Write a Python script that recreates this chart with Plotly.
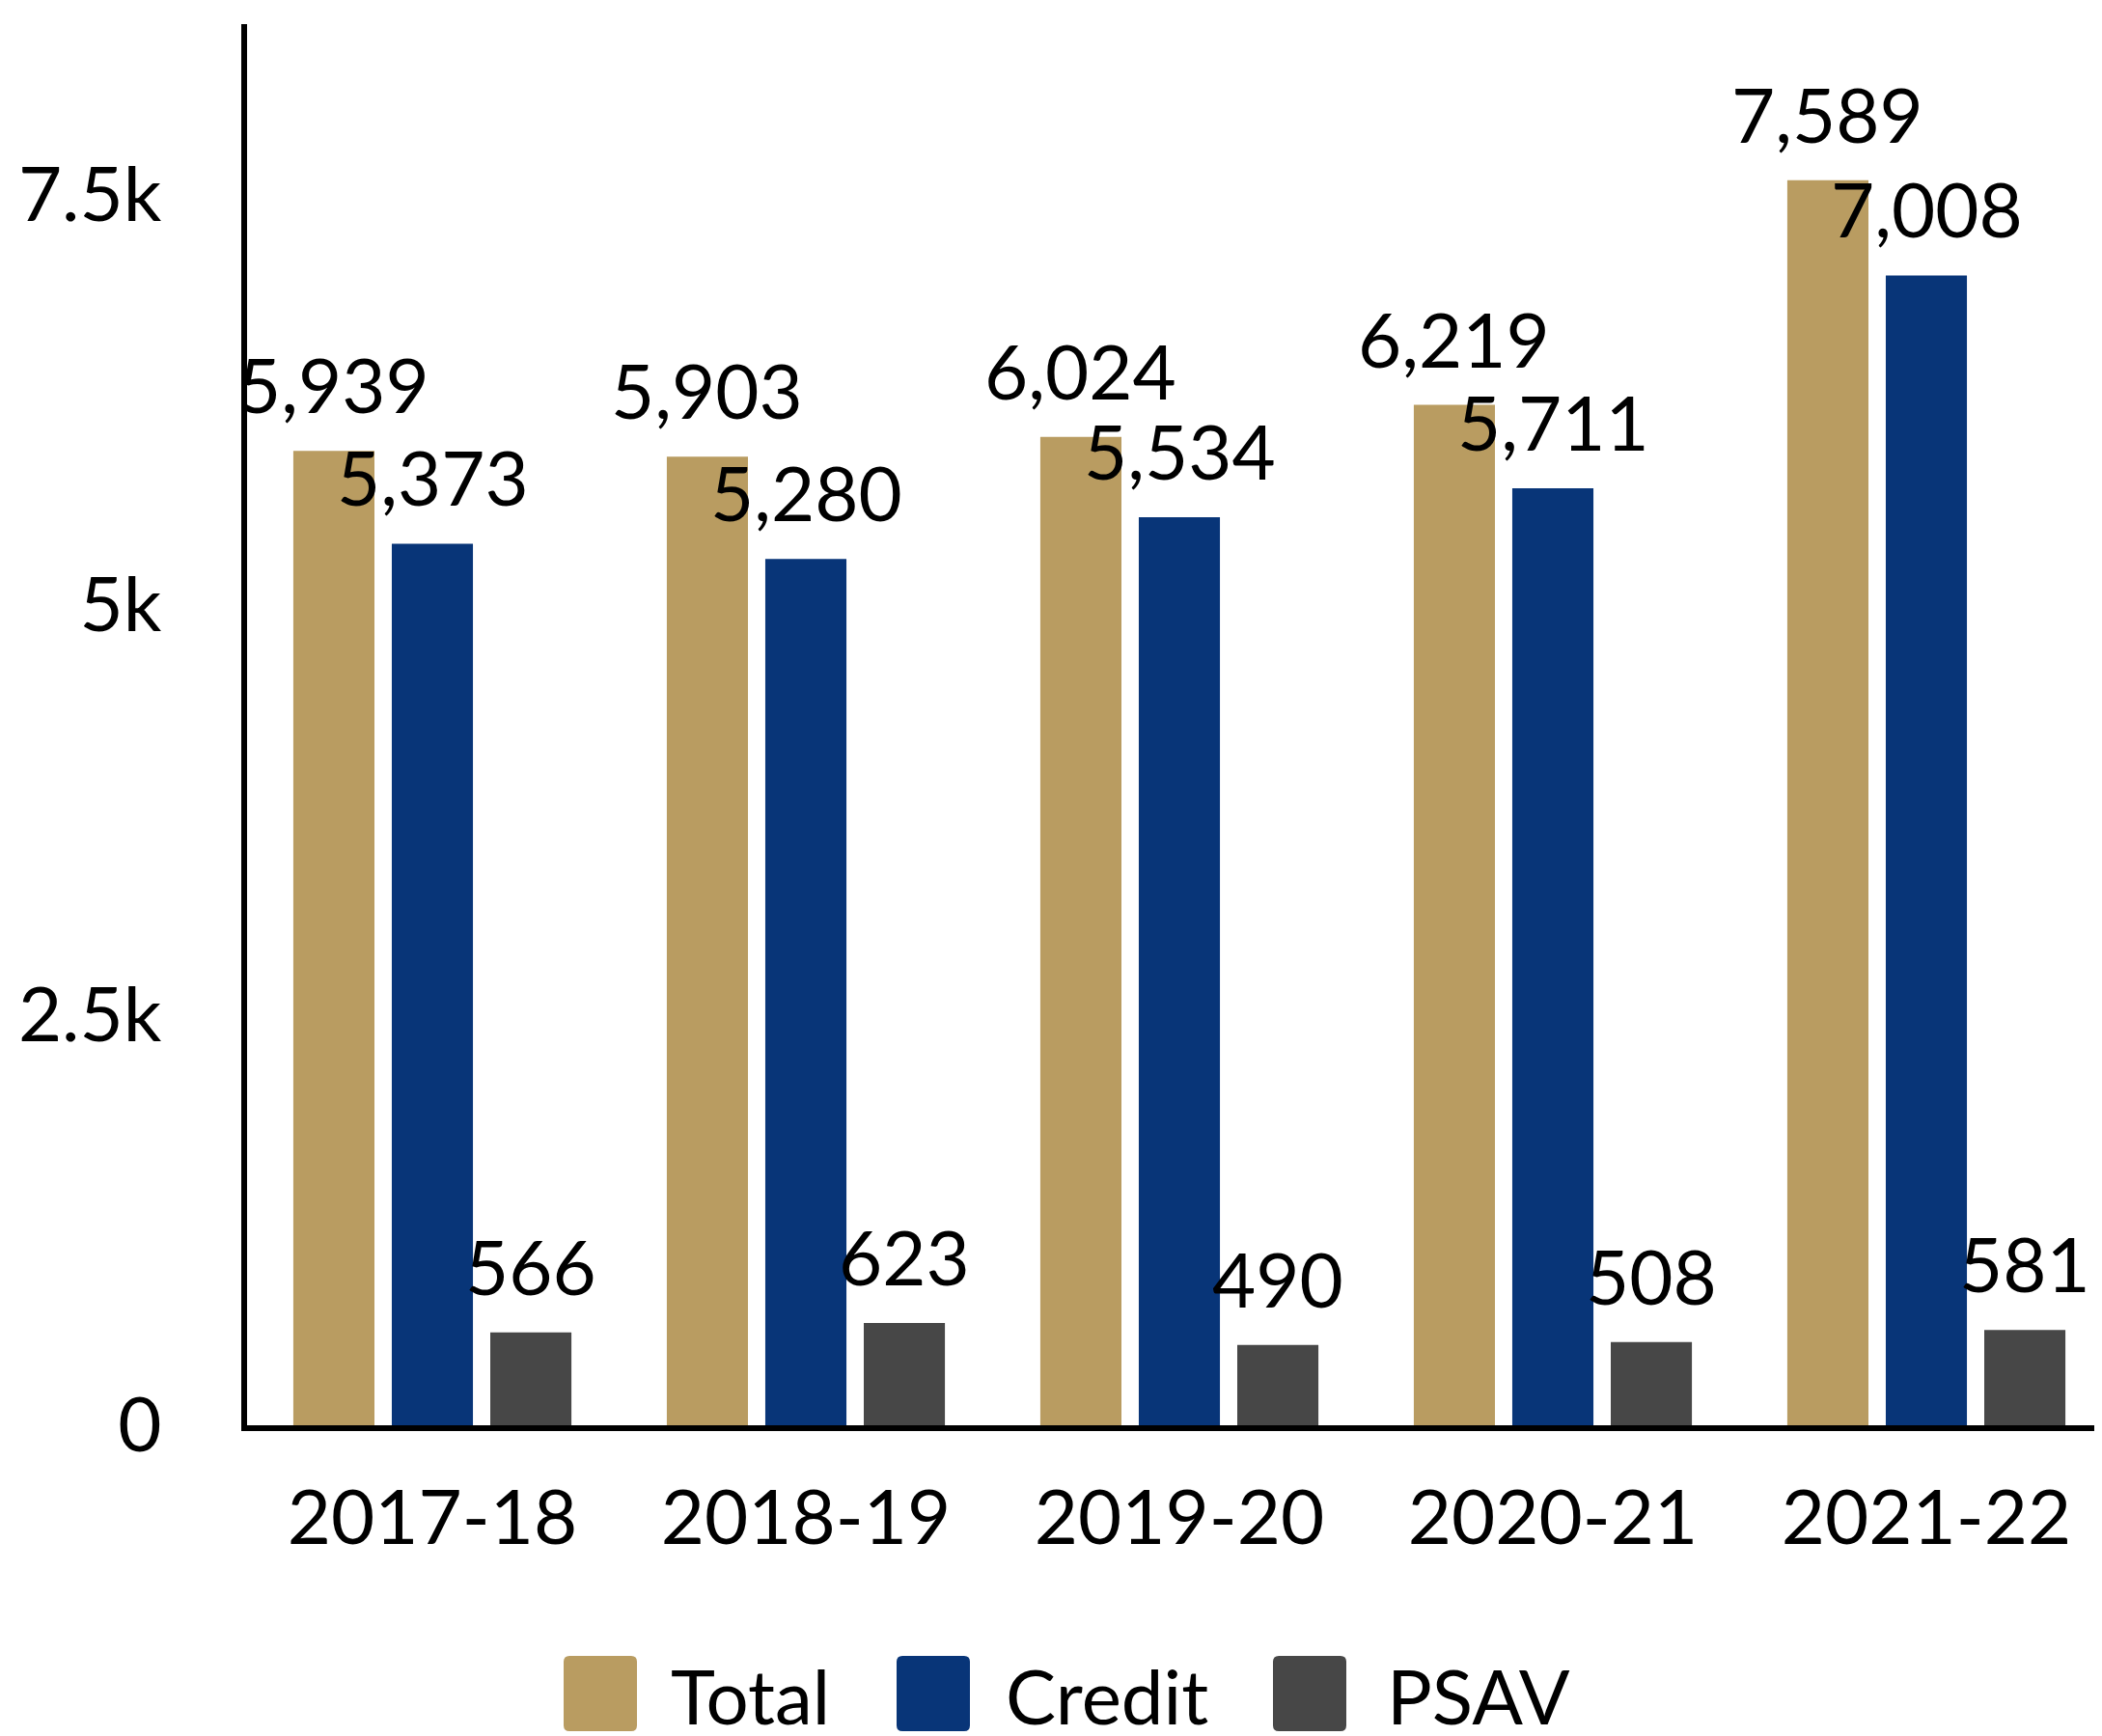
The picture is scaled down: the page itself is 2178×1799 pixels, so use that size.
import plotly.graph_objects as go

# ---------------- data ----------------
years = ["2017-18", "2018-19", "2019-20", "2020-21", "2021-22"]
total = [5939, 5903, 6024, 6219, 7589]
credit = [5373, 5280, 5534, 5711, 7008]
psav = [566, 623, 490, 508, 581]
series_names = ["Total", "Credit", "PSAV"]
y_tickvals = [0, 2500, 5000, 7500]
y_ticktext = ["0", "2.5k", "5k", "7.5k"]

# ---------------- style ----------------
colors = ["#B99C61", "#083578", "#474747"]
FONT = "Lato"
FS = 78
OFF = 8  # page body margin
W, H = 2178 - OFF, 1799 - OFF
ML, MR, MT, MB = 256 - OFF, 0, 25 - OFF, 1799 - 1477
BARGAP = 0.209
BARGROUPGAP = 0.176

fig = go.Figure()
series = [total, credit, psav]
for name, vals, col in zip(series_names, series, colors):
    fig.add_trace(go.Bar(x=years, y=vals, name=name, marker=dict(color=col, line=dict(width=0)),
                         showlegend=False, hoverinfo="x+y+name"))

# value labels above bars, positioned via the category scale
slot = (1 - BARGAP) / len(series)
annotations = []
for i, vals in enumerate(series):
    off = (i - (len(series) - 1) / 2) * slot
    for j, v in enumerate(vals):
        annotations.append(dict(x=j + off, y=v, xref="x", yref="y", text=f"{v:,}",
                                showarrow=False, xanchor="center", yanchor="bottom", yshift=20,
                                font=dict(family=FONT, size=FS, color="#000000")))

# custom legend (large rounded swatches); coordinates in page pixels
PW = W - ML - MR
PH = H - MT - MB
def px_x(X):
    return (X - OFF - ML) / PW
def px_y(Y):
    return (H - MB - (Y - OFF)) / PH

def rounded_path(w, h, r):
    x0, x1, y0, y1 = -w / 2, w / 2, -h / 2, h / 2
    return (f"M{x0 + r},{y0} L{x1 - r},{y0} Q{x1},{y0} {x1},{y0 + r} "
            f"L{x1},{y1 - r} Q{x1},{y1} {x1 - r},{y1} L{x0 + r},{y1} "
            f"Q{x0},{y1} {x0},{y1 - r} L{x0},{y0 + r} Q{x0},{y0} {x0 + r},{y0} Z")

legend_swatch_cx = [622, 967, 1357]
legend_text_x = [693, 1040, 1435]
legend_cy = 1755
shapes = []
for name, col, sx, tx in zip(series_names, colors, legend_swatch_cx, legend_text_x):
    shapes.append(dict(type="path", xref="paper", yref="paper", xsizemode="pixel", ysizemode="pixel",
                       xanchor=px_x(sx), yanchor=px_y(legend_cy), path=rounded_path(76, 78, 6),
                       fillcolor=col, line=dict(width=0)))
    annotations.append(dict(x=px_x(tx), y=px_y(legend_cy + 2), xref="paper", yref="paper", text=name,
                            showarrow=False, xanchor="left", yanchor="middle",
                            font=dict(family=FONT, size=FS, color="#000000")))

cat_px = 387.0
x0 = -(448 - 256) / cat_px
x1 = x0 + PW / cat_px

fig.update_layout(
    width=W, height=H,
    margin=dict(l=ML, r=MR, t=MT, b=MB, pad=0),
    paper_bgcolor="white", plot_bgcolor="white",
    barmode="group", bargap=BARGAP, bargroupgap=BARGROUPGAP,
    font=dict(family=FONT, size=FS, color="#000000"),
    showlegend=False,
    annotations=annotations,
    shapes=shapes,
    xaxis=dict(type="category", range=[x0, x1], showline=True, linecolor="#000000", linewidth=6,
               ticks="outside", ticklen=23, tickcolor="rgba(0,0,0,0)", showgrid=False, zeroline=False,
               tickfont=dict(family=FONT, size=FS, color="#000000")),
    yaxis=dict(range=[0, 8540], tickvals=y_tickvals, ticktext=y_ticktext, showline=True,
               linecolor="#000000", linewidth=6, ticks="outside", ticklen=67,
               tickcolor="rgba(0,0,0,0)", showgrid=False, zeroline=False,
               tickfont=dict(family=FONT, size=FS, color="#000000")),
)

fig.write_html("out.html")
